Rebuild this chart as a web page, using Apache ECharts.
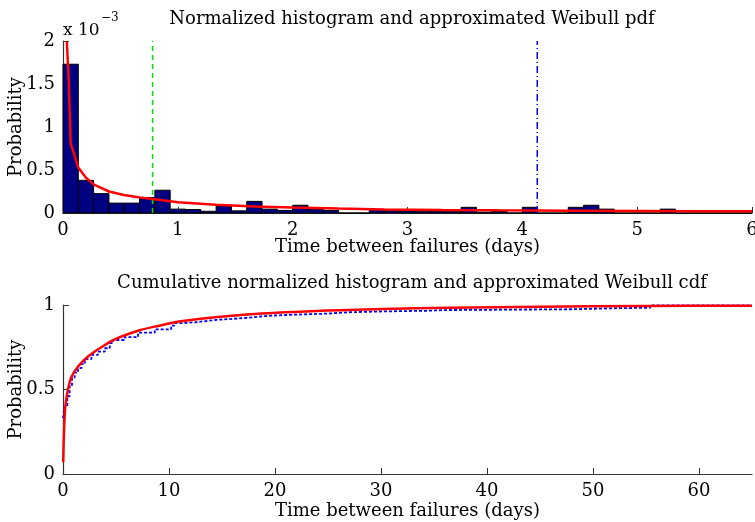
<!DOCTYPE html>
<html>
<head>
<meta charset="utf-8">
<script src="https://cdn.jsdelivr.net/npm/echarts@6/dist/echarts.min.js"></script>
<style>
  html, body { margin: 0; padding: 0; background: #fff; }
  #chart { width: 755px; height: 522px; }
</style>
</head>
<body>
<div id="chart"></div>
<script>
// Time between failures: histogram (x 10^-3) with Weibull fit, and cumulative curves.

// Histogram: bin width in days and bar heights (units of 1e-3)
const binWidth = 6 / 45;
const histHeights = [
  1.73, 0.38, 0.225, 0.115, 0.115, 0.18, 0.265, 0.045, 0.04, 0.02,
  0.085, 0.025, 0.135, 0.045, 0.03, 0.09, 0.045, 0.03, 0, 0,
  0.03, 0.025, 0.025, 0.02, 0.02, 0.02, 0.066, 0.01, 0.02, 0,
  0.066, 0, 0, 0.066, 0.09, 0.045, 0, 0, 0, 0.045,
  0, 0, 0, 0, 0
];

// Weibull pdf (units of 1e-3)
const pdfDays = [0.033, 0.05, 0.067, 0.133, 0.2, 0.27, 0.4, 0.53, 0.67, 0.8, 1.0, 1.33, 1.67, 2.0, 2.4, 2.8, 3.3, 3.8, 4.4, 5.0, 5.5, 6.0];
const pdfValues = [2.0, 1.54, 0.81, 0.53, 0.41, 0.33, 0.25, 0.21, 0.18, 0.16, 0.125, 0.095, 0.077, 0.064, 0.052, 0.042, 0.036, 0.031, 0.027, 0.024, 0.021, 0.019];

// Reference markers (days)
const greenMarker = 0.78;
const blueMarker = 4.13;

// Empirical cumulative histogram
const ecdfDays = [0, 0.16, 0.41, 0.63, 0.85, 1.1, 1.42, 1.74, 2.05, 2.68, 3.3, 3.94, 4.41, 4.72, 5.83, 7.08, 8.66, 10.2, 10.5, 11.3, 12.5, 13.5, 14.5, 16.0, 17.5, 18.6, 20.0, 22.0, 24.9, 27.0, 30.2, 34.3, 36.0, 48.0, 52.3, 55.4, 65];
const ecdfValues = [0.33, 0.40, 0.46, 0.52, 0.57, 0.60, 0.626, 0.65, 0.68, 0.705, 0.724, 0.744, 0.774, 0.793, 0.81, 0.836, 0.856, 0.878, 0.893, 0.898, 0.905, 0.912, 0.918, 0.925, 0.932, 0.938, 0.943, 0.949, 0.957, 0.962, 0.966, 0.970, 0.975, 0.981, 0.984, 0.998, 0.998];

// Weibull cdf
const cdfDays = [0.02, 0.1, 0.22, 0.47, 0.79, 1.42, 2.36, 3.62, 4.88, 7.08, 8.66, 11.3, 17.6, 23.9, 30.2, 36.5, 45, 55, 65];
const cdfValues = [0.07, 0.26, 0.40, 0.50, 0.573, 0.636, 0.695, 0.75, 0.797, 0.848, 0.872, 0.905, 0.945, 0.965, 0.976, 0.984, 0.99, 0.994, 0.996];

const FONT = 'DejaVu Serif';
const AXIS_COLOR = '#333';

const histData = histHeights.map((h, i) => [i * binWidth, (i + 1) * binWidth, h]);
const zip = (xs, ys) => xs.map((x, i) => [x, ys[i]]);

function axisCommon() {
  return {
    nameMoveOverlap: false,
    axisLine: { show: true, onZero: false, lineStyle: { color: AXIS_COLOR, width: 1.2 } },
    axisTick: { show: true, inside: true, length: 6, lineStyle: { color: AXIS_COLOR } },
    splitLine: { show: false },
    axisLabel: { color: '#000', fontFamily: FONT, fontSize: 18, margin: 8 },
    nameTextStyle: { color: '#000', fontFamily: FONT, fontSize: 18 }
  };
}

const chart = echarts.init(document.getElementById('chart'), null, { renderer: 'canvas' });

chart.setOption({
  animation: false,
  backgroundColor: '#fff',
  title: [
    { text: 'Normalized histogram and approximated Weibull pdf', left: 407, top: 5, textAlign: 'center',
      textStyle: { fontFamily: FONT, fontSize: 18, fontWeight: 'normal', color: '#000' } },
    { text: 'Cumulative normalized histogram and approximated Weibull cdf', left: 407, top: 269, textAlign: 'center',
      textStyle: { fontFamily: FONT, fontSize: 18, fontWeight: 'normal', color: '#000' } }
  ],
  graphic: [
    { type: 'text', left: 63, top: 22, style: { text: 'x 10', font: '17px "DejaVu Serif"', fill: '#000' } },
    { type: 'text', left: 101, top: 12, style: { text: '\u22123', font: '12px "DejaVu Serif"', fill: '#000' } }
  ],
  grid: [
    { left: 63, right: 3, top: 41, height: 172, outerBoundsMode: 'none', containLabel: false },
    { left: 63, right: 3, top: 305, height: 169, outerBoundsMode: 'none', containLabel: false }
  ],
  xAxis: [
    Object.assign(axisCommon(), {
      type: 'value', gridIndex: 0, min: 0, max: 6, interval: 1,
      name: 'Time between failures (days)', nameLocation: 'middle', nameGap: 25
    }),
    Object.assign(axisCommon(), {
      type: 'value', gridIndex: 1, min: 0, max: 65, interval: 10,
      name: 'Time between failures (days)', nameLocation: 'middle', nameGap: 28
    })
  ],
  yAxis: [
    Object.assign(axisCommon(), {
      type: 'value', gridIndex: 0, min: 0, max: 2, interval: 0.5,
      name: 'Probability', nameLocation: 'middle', nameGap: 38, nameRotate: 90
    }),
    Object.assign(axisCommon(), {
      type: 'value', gridIndex: 1, min: 0, max: 1, interval: 0.5,
      name: 'Probability', nameLocation: 'middle', nameGap: 38, nameRotate: 90
    })
  ],
  series: [
    {
      type: 'custom', xAxisIndex: 0, yAxisIndex: 0, data: histData,
      encode: { x: [0, 1], y: 2 },
      renderItem: function (params, api) {
        const p0 = api.coord([api.value(0), api.value(2)]);
        const p1 = api.coord([api.value(1), 0]);
        return {
          type: 'rect',
          shape: { x: p0[0], y: p0[1], width: p1[0] - p0[0], height: p1[1] - p0[1] },
          style: { fill: '#000080', stroke: '#000', lineWidth: 1 }
        };
      }
    },
    {
      type: 'line', xAxisIndex: 0, yAxisIndex: 0, data: [[greenMarker, 0], [greenMarker, 2]],
      symbol: 'none', lineStyle: { color: '#00e000', width: 1.5, type: [5, 4] }
    },
    {
      type: 'line', xAxisIndex: 0, yAxisIndex: 0, data: [[blueMarker, 0], [blueMarker, 2]],
      symbol: 'none', lineStyle: { color: '#0000ff', width: 1.5, type: [7, 3, 1, 3] }
    },
    {
      type: 'line', xAxisIndex: 0, yAxisIndex: 0, data: zip(pdfDays, pdfValues),
      symbol: 'none', smooth: false, lineStyle: { color: '#ff0000', width: 2.5 }, z: 5
    },
    {
      type: 'line', xAxisIndex: 1, yAxisIndex: 1, data: zip(ecdfDays, ecdfValues),
      step: 'end', symbol: 'none', lineStyle: { color: '#0000ff', width: 1.8, type: [3, 2] }
    },
    {
      type: 'line', xAxisIndex: 1, yAxisIndex: 1, data: zip(cdfDays, cdfValues),
      symbol: 'none', smooth: 0.3, lineStyle: { color: '#ff0000', width: 2.5 }, z: 5
    }
  ]
});

// The cdf axis stops at 65 days without a label at its end
chart.setOption({ xAxis: [{}, { axisLabel: { showMaxLabel: false } }] });
</script>
</body>
</html>
